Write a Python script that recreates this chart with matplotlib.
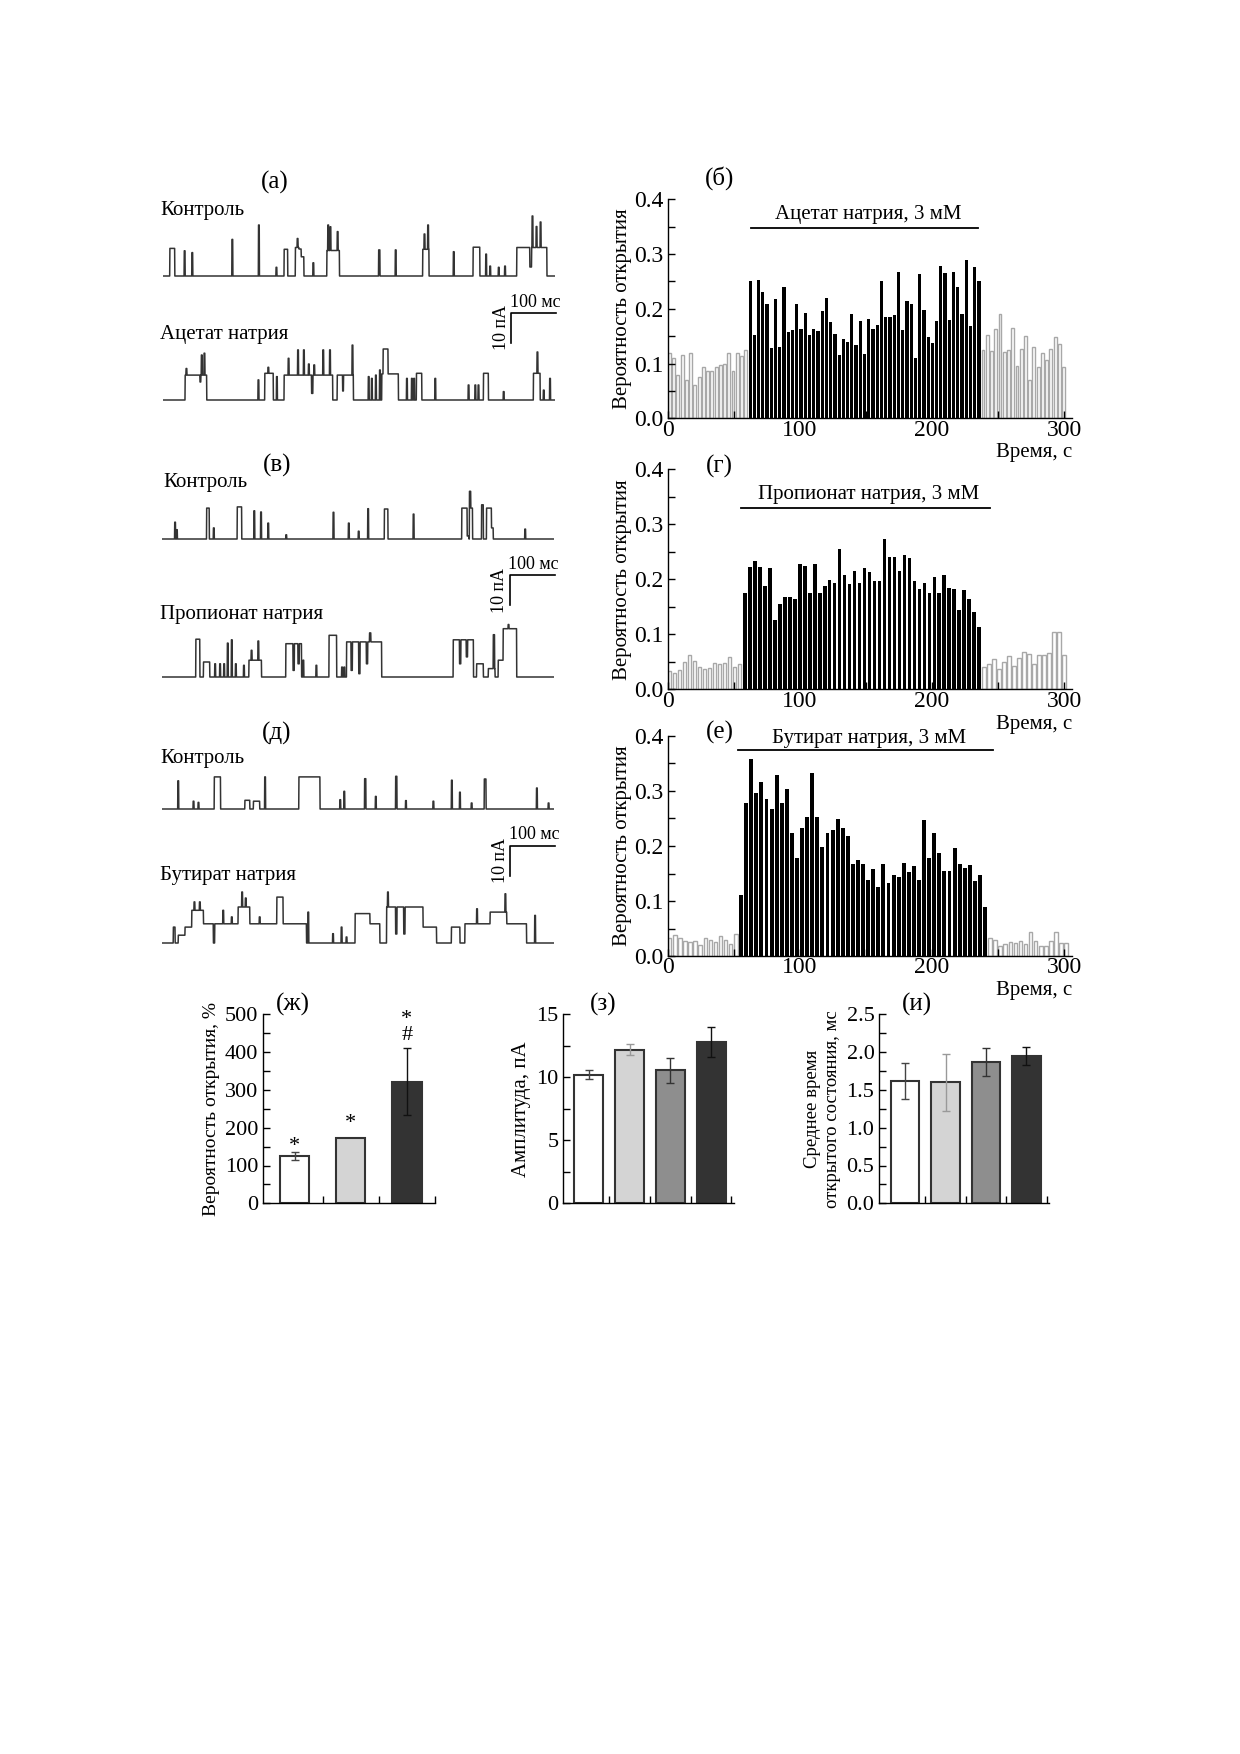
import numpy as np
import matplotlib
matplotlib.use('Agg')
import matplotlib.pyplot as plt
from matplotlib.ticker import MultipleLocator, FormatStrFormatter

plt.rcParams['font.family'] = ['Liberation Serif', 'DejaVu Serif']
plt.rcParams['axes.linewidth'] = 1.0

W, H = 1240, 1754

# ---------- single channel traces: (start ms, end ms, level pA) ----------
trace_len = 872

ctrl_a = [(16, 27, 9.2), (48, 50, 8.4), (65, 67, 7.8), (154, 156, 12.2), (213, 215, 17.0),
          (252, 254, 2.9), (270, 278, 8.9), (295, 303, 9.5), (299, 301, 12.5), (303, 308, 9.0),
          (308, 314, 6.4), (334, 336, 4.4), (365, 393, 8.5), (367, 369, 17.0), (372, 374, 16.4),
          (388, 390, 14.8), (480, 483, 8.7), (517, 519, 8.7), (578, 592, 8.9), (581, 583, 14.0),
          (589, 591, 17.0), (646, 648, 8.1), (690, 705, 9.6), (718, 720, 7.3), (727, 729, 3.3),
          (746, 748, 2.9), (760, 762, 3.3), (787, 854, 9.5), (816, 820, 3.0), (821, 823, 20.0),
          (830, 832, 16.5), (839, 841, 18.0)]

acetate = [(50, 98, 8.3), (52, 54, 10.5), (83, 85, 6.0), (86, 88, 15.0), (92, 94, 15.6),
           (212, 214, 6.7), (227, 246, 8.9), (234, 236, 10.9), (253, 255, 7.8),
           (270, 424, 8.3), (279, 281, 13.9), (300, 302, 16.7), (313, 315, 16.7), (324, 326, 12.0),
           (331, 334, 2.2), (336, 338, 11.7), (356, 358, 16.7), (371, 373, 16.7), (378, 388, 0.0),
           (400, 402, 3.0), (421, 423, 18.3), (457, 459, 7.8), (464, 466, 7.2), (473, 475, 8.3),
           (482, 484, 10.0), (487, 524, 8.7), (490, 501, 17.0), (542, 544, 7.2), (553, 555, 7.2),
           (558, 560, 7.2), (564, 576, 8.9), (605, 607, 7.2), (679, 681, 5.0), (694, 696, 5.0),
           (701, 703, 5.0), (713, 724, 8.9), (757, 759, 2.8), (824, 839, 8.9), (832, 834, 16.0),
           (846, 848, 3.3), (860, 862, 7.2)]

ctrl_v = [(29, 31, 5.6), (33, 35, 3.1), (100, 106, 10.3), (115, 117, 3.7), (168, 178, 10.7),
          (205, 207, 9.4), (220, 222, 9.0), (236, 238, 5.3), (276, 278, 1.4), (381, 383, 8.9),
          (415, 417, 5.3), (437, 439, 2.6), (458, 460, 10.1), (495, 503, 10.0), (559, 561, 8.3),
          (667, 679, 10.3), (679, 683, 1.0), (684, 687, 15.9), (687, 691, 10.3), (711, 715, 11.4),
          (722, 733, 10.3), (733, 737, 3.7), (807, 809, 3.3)]

propionate = [(76, 85, 12.6), (93, 107, 5.0), (118, 120, 4.4), (129, 131, 4.4), (138, 140, 4.4),
              (146, 148, 11.3), (155, 157, 12.4), (164, 166, 4.4), (182, 184, 3.9),
              (194, 222, 5.6), (199, 201, 8.9), (214, 216, 12.0), (276, 311, 11.1), (292, 295, 2.2),
              (303, 306, 4.4), (314, 316, 5.6), (343, 345, 3.9), (372, 389, 13.9), (400, 402, 3.3),
              (405, 407, 3.3), (411, 489, 11.7), (421, 424, 2.2), (438, 441, 1.1), (455, 458, 4.4),
              (462, 465, 14.7), (648, 693, 12.4), (662, 665, 4.4), (677, 680, 6.7), (700, 715, 4.4),
              (726, 741, 2.8), (737, 740, 14.1), (748, 759, 5.6), (759, 789, 16.1), (770, 772, 17.5)]

ctrl_d = [(36, 38, 9.4), (70, 72, 2.6), (81, 83, 2.2), (117, 131, 10.7), (185, 196, 2.9),
          (204, 218, 2.6), (229, 231, 10.7), (305, 352, 10.7), (396, 398, 3.1), (405, 407, 5.9),
          (451, 454, 10.1), (475, 477, 4.2), (520, 523, 10.9), (542, 544, 2.8), (603, 605, 2.6),
          (644, 646, 9.6), (662, 664, 5.6), (688, 690, 2.0), (717, 721, 10.0), (833, 835, 7.0),
          (859, 861, 2.0)]

butyrate = [(26, 30, 5.3), (37, 52, 2.6), (52, 67, 5.3), (67, 93, 10.9), (72, 74, 13.7),
            (84, 86, 13.7), (93, 115, 6.4), (116, 118, 0.0), (118, 170, 6.4), (136, 138, 10.9),
            (155, 157, 8.7), (170, 196, 12.0), (178, 180, 17.0), (186, 188, 15.0), (196, 256, 6.4),
            (217, 219, 8.7), (256, 270, 15.3), (270, 322, 6.4), (325, 327, 10.3), (380, 382, 3.1),
            (399, 401, 5.3), (410, 412, 2.0), (430, 463, 9.8), (463, 485, 6.4), (500, 581, 12.0),
            (502, 504, 17.0), (520, 523, 3.0), (538, 541, 3.0), (581, 611, 5.3), (644, 663, 5.3),
            (674, 730, 6.4), (700, 702, 11.4), (730, 767, 10.3), (763, 765, 16.4), (767, 811, 6.4),
            (829, 831, 9.2)]

# ---------- open probability histograms ----------
b_before = [0.12, 0.11, 0.079, 0.115, 0.07, 0.119, 0.061, 0.075, 0.093, 0.086, 0.086, 0.094,
            0.097, 0.099, 0.12, 0.086, 0.12, 0.114, 0.125]
b_treat = [0.251, 0.153, 0.253, 0.231, 0.209, 0.128, 0.218, 0.131, 0.240, 0.158, 0.161, 0.208,
           0.163, 0.193, 0.152, 0.163, 0.159, 0.196, 0.220, 0.175, 0.154, 0.116, 0.144, 0.139,
           0.190, 0.134, 0.178, 0.117, 0.181, 0.163, 0.170, 0.251, 0.185, 0.185, 0.188, 0.267,
           0.161, 0.214, 0.208, 0.111, 0.263, 0.197, 0.148, 0.137, 0.177, 0.278, 0.265, 0.180,
           0.268, 0.239, 0.190, 0.289, 0.169, 0.277, 0.251]
b_after = [0.124, 0.152, 0.123, 0.164, 0.19, 0.121, 0.124, 0.165, 0.095, 0.126, 0.15, 0.07,
           0.13, 0.093, 0.12, 0.107, 0.127, 0.148, 0.135, 0.093]

g_before = [0.034, 0.029, 0.035, 0.050, 0.062, 0.051, 0.040, 0.037, 0.038, 0.048, 0.046, 0.048,
            0.058, 0.040, 0.046]
g_treat = [0.175, 0.222, 0.233, 0.222, 0.187, 0.221, 0.126, 0.155, 0.168, 0.167, 0.164, 0.228,
           0.224, 0.175, 0.227, 0.175, 0.187, 0.198, 0.193, 0.256, 0.207, 0.192, 0.215, 0.193,
           0.221, 0.214, 0.197, 0.197, 0.273, 0.240, 0.240, 0.215, 0.245, 0.239, 0.197, 0.182,
           0.193, 0.175, 0.205, 0.176, 0.208, 0.184, 0.182, 0.144, 0.180, 0.164, 0.141, 0.114]
g_after = [0.040, 0.046, 0.055, 0.037, 0.049, 0.060, 0.043, 0.057, 0.068, 0.065, 0.046, 0.063,
           0.063, 0.066, 0.104, 0.104, 0.063]

e_before = [0.032, 0.039, 0.033, 0.027, 0.025, 0.027, 0.020, 0.033, 0.029, 0.025, 0.036, 0.030,
            0.021, 0.040]
e_treat = [0.111, 0.279, 0.358, 0.296, 0.316, 0.285, 0.267, 0.329, 0.278, 0.304, 0.223, 0.178,
           0.233, 0.252, 0.332, 0.253, 0.198, 0.224, 0.230, 0.250, 0.232, 0.218, 0.167, 0.175,
           0.167, 0.138, 0.158, 0.125, 0.168, 0.132, 0.148, 0.143, 0.170, 0.152, 0.164, 0.139,
           0.247, 0.179, 0.224, 0.187, 0.155, 0.154, 0.197, 0.168, 0.160, 0.165, 0.136, 0.147,
           0.090]
e_after = [0.032, 0.030, 0.018, 0.021, 0.025, 0.023, 0.027, 0.022, 0.044, 0.027, 0.018, 0.018,
           0.027, 0.043, 0.023, 0.023]

# ---------- summary bars ----------
po_vals = [125, 172, 322]
po_err = [10, 0, 88]
amp_vals = [10.2, 12.2, 10.55, 12.8]
amp_err = [0.35, 0.45, 1.0, 1.2]
tau_vals = [1.62, 1.60, 1.865, 1.945]
tau_err = [0.235, 0.38, 0.185, 0.12]
bar_colors = ['#ffffff', '#d4d4d4', '#8e8e8e', '#333333']
err_colors = ['#444444', '#999999', '#333333', '#111111']

fig = plt.figure(figsize=(W / 100, H / 100), dpi=100)


def px_axes(x0, y0, x1, y1):
    return fig.add_axes([x0 / W, 1 - y1 / H, (x1 - x0) / W, (y1 - y0) / H])


def px_text(x, y, s, **kw):
    fig.text(x / W, 1 - y / H, s, **kw)


def build_trace(events):
    t = np.arange(0, trace_len + 0.5, 0.5)
    y = np.zeros_like(t)
    for a, b, lv in events:
        y[(t >= a) & (t < b)] = lv
    return t, y


def draw_trace(events, x0, base, scalebar=None):
    # 0.45 px per ms, 3 px per pA
    ax = px_axes(x0, base - 70, x0 + trace_len * 0.45, base + 10)
    t, y = build_trace(events)
    ax.plot(t, y, color='#333333', lw=1.1)
    ax.set_xlim(0, trace_len)
    ax.set_ylim(-10 / 3, 70 / 3)
    ax.axis('off')
    if scalebar is not None:
        sx, sy = scalebar
        ax.plot([sx, sx, sx + 100], [sy - 10, sy, sy], color='black', lw=1.2, clip_on=False)
        ax.text(sx + 52, sy + 0.8, '100 мс', ha='center', va='bottom', fontsize=13)
        ax.text(sx - 4, sy - 5, '10 пА', ha='right', va='center', rotation=90, fontsize=13)
    return ax


LETTER = 18
TRACE_LAB = 15

# panel (а)
px_text(275, 182, '(а)', ha='center', va='center', fontsize=LETTER)
px_text(160, 210, 'Контроль', ha='left', va='center', fontsize=TRACE_LAB)
draw_trace(ctrl_a, 162.7, 276)
px_text(160, 335, 'Ацетат натрия', ha='left', va='center', fontsize=TRACE_LAB)
draw_trace(acetate, 162.7, 400, scalebar=(775, 29))

# panel (в)
px_text(277, 465, '(в)', ha='center', va='center', fontsize=LETTER)
px_text(163, 483, 'Контроль', ha='left', va='center', fontsize=TRACE_LAB)
draw_trace(ctrl_v, 161.7, 539)
px_text(160, 615, 'Пропионат натрия', ha='left', va='center', fontsize=TRACE_LAB)
draw_trace(propionate, 161.7, 677, scalebar=(774, 34))

# panel (д)
px_text(277, 733, '(д)', ha='center', va='center', fontsize=LETTER)
px_text(160, 758, 'Контроль', ha='left', va='center', fontsize=TRACE_LAB)
draw_trace(ctrl_d, 161.7, 809)
px_text(160, 875, 'Бутират натрия', ha='left', va='center', fontsize=TRACE_LAB)
draw_trace(butyrate, 161.7, 943, scalebar=(775, 32.5))


def hist_panel(top, bottom, before, treat, after, w, letter, letter_y, label, lab_y,
               line_y, l0, l1):
    ax = px_axes(668, top, 1072, bottom)
    n1, n2 = len(before), len(treat)
    x = np.arange(n1 + n2 + len(after)) * w
    ax.bar(x[:n1], before, width=0.68 * w, align='edge', facecolor='white',
           edgecolor='#a8a8a8', lw=1.0)
    ax.bar(x[n1:n1 + n2], treat, width=0.76 * w, align='edge', color='black', lw=0)
    ax.bar(x[n1 + n2:], after, width=0.68 * w, align='edge', facecolor='white',
           edgecolor='#a8a8a8', lw=1.0)
    ax.set_xlim(0, 306)
    ax.set_ylim(0, 0.4)
    for s in ['top', 'right']:
        ax.spines[s].set_visible(False)
    ax.xaxis.set_major_locator(MultipleLocator(100))
    ax.xaxis.set_minor_locator(MultipleLocator(50))
    ax.yaxis.set_major_locator(MultipleLocator(0.1))
    ax.yaxis.set_minor_locator(MultipleLocator(0.05))
    ax.yaxis.set_major_formatter(FormatStrFormatter('%.1f'))
    ax.tick_params(which='both', direction='in', length=5, width=1, labelsize=17)
    ax.tick_params(axis='x', pad=1)
    ax.tick_params(axis='y', pad=3)
    ax.plot([l0, l1], [line_y, line_y], color='black', lw=1.3, clip_on=False)
    ax.text(152, lab_y, label, ha='center', va='center', fontsize=15)
    ax.text(39, letter_y, letter, ha='center', va='center', fontsize=LETTER)
    ax.set_ylabel('Вероятность открытия', fontsize=15, labelpad=2)
    ax.text(1.0, -0.115, 'Время, с', transform=ax.transAxes, ha='right', va='top', fontsize=15)
    return ax


hist_panel(199.3, 418.3, b_before, b_treat, b_after, 3.21, '(б)', 0.439,
           'Ацетат натрия, 3 мМ', 0.372, 0.348, 63, 235)
hist_panel(469.3, 689.3, g_before, g_treat, g_after, 3.78, '(г)', 0.405,
           'Пропионат натрия, 3 мМ', 0.355, 0.329, 55, 244)
hist_panel(736, 956, e_before, e_treat, e_after, 3.85, '(е)', 0.406,
           'Бутират натрия, 3 мМ', 0.396, 0.3745, 53, 246)


def summary_panel(x0, x1, xl, vals, err, colors, ecolors, width, ymax, major, minor, fmt,
                  ylabel, ylab_size, letter, lx):
    ax = px_axes(x0, 1014.3, x1, 1203.3)
    pos = np.arange(1, len(vals) + 1)
    ax.bar(pos, vals, width=width, color=colors, edgecolor='#333333', lw=1.5, zorder=2)
    for p, v, e, c in zip(pos, vals, err, ecolors):
        if e > 0:
            ax.errorbar(p, v, yerr=e, color=c, lw=1.0, capsize=3, capthick=1.0, zorder=3)
    ax.set_xlim(*xl)
    ax.set_ylim(0, ymax)
    for s in ['top', 'right']:
        ax.spines[s].set_visible(False)
    ax.set_xticks(pos + 0.5)
    ax.set_xticklabels([])
    ax.yaxis.set_major_locator(MultipleLocator(major))
    ax.yaxis.set_minor_locator(MultipleLocator(minor))
    ax.yaxis.set_major_formatter(FormatStrFormatter(fmt))
    ax.tick_params(which='both', direction='in', length=5, width=1, labelsize=16)
    ax.set_ylabel(ylabel, fontsize=ylab_size, labelpad=4)
    px_text(lx, 1004, letter, ha='center', va='center', fontsize=LETTER)
    return ax


ax_po = summary_panel(263.3, 435, (0.44, 3.5), po_vals, po_err,
                      [bar_colors[0], bar_colors[1], bar_colors[3]],
                      [err_colors[0], err_colors[1], err_colors[3]], 0.52,
                      500, 100, 50, '%d', 'Вероятность открытия, %', 14, '(ж)', 293)
ax_po.text(1, 150, '*', ha='center', va='center', fontsize=16)
ax_po.text(2, 210, '*', ha='center', va='center', fontsize=16)
ax_po.text(3, 420, '*\n#', ha='center', va='bottom', fontsize=16, linespacing=0.75)

summary_panel(563.3, 734.3, (0.37, 4.57), amp_vals, amp_err, bar_colors, err_colors, 0.71,
              15, 5, 2.5, '%d', 'Амплитуда, пА', 15, '(з)', 603)
summary_panel(879.3, 1049, (0.36, 4.56), tau_vals, tau_err, bar_colors, err_colors, 0.70,
              2.5, 0.5, 0.25, '%.1f', 'Среднее время\nоткрытого состояния, мс', 13.5, '(и)', 917)

fig.savefig('out.png', dpi=100)
